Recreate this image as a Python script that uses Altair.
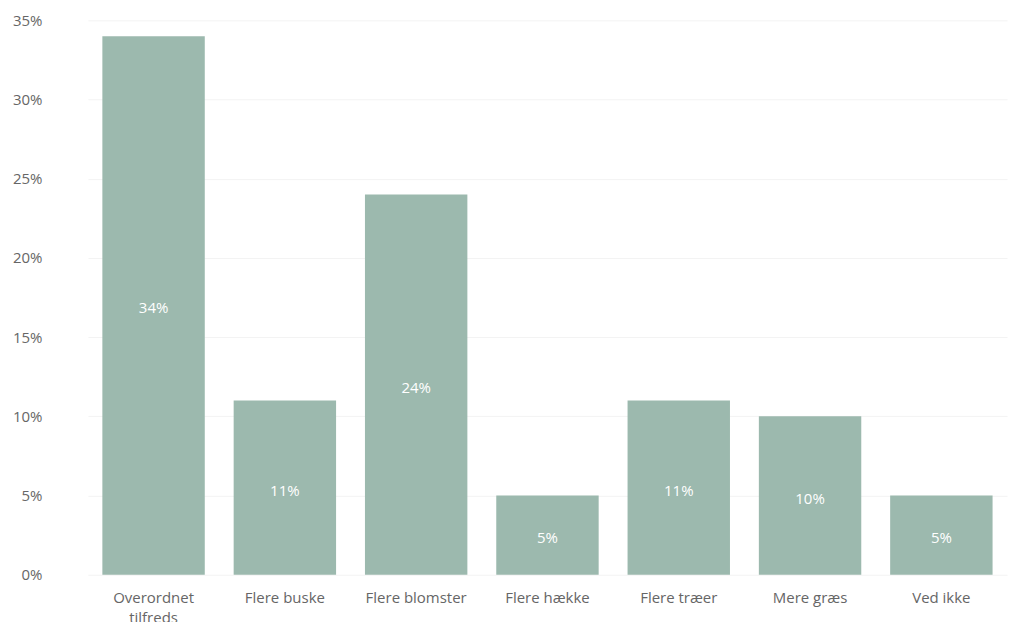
import altair as alt
import pandas as pd

categories = ["Overordnet tilfreds", "Flere buske", "Flere blomster", "Flere hække",
              "Flere træer", "Mere græs", "Ved ikke"]
values = [0.34, 0.11, 0.24, 0.05, 0.11, 0.10, 0.05]

df = pd.DataFrame({"kategori": categories, "andel": values})

FONT = "Open Sans"
BAR = "#9cb9ae"

x = alt.X("kategori:N", sort=categories, title=None,
          scale=alt.Scale(paddingInner=0.22, paddingOuter=0.11),
          axis=alt.Axis(labelAngle=0, domain=False, ticks=False, labelPadding=16,
                        labelFontSize=15, labelColor="#666666", labelFont=FONT,
                        labelLineHeight=20, labelLimit=200,
                        labelExpr="datum.label == 'Overordnet tilfreds' ? ['Overordnet', 'tilfreds'] : datum.label"))
y = alt.Y("andel:Q", title=None,
          scale=alt.Scale(domain=[0, 0.35], nice=False),
          axis=alt.Axis(format=".0%", values=[0, 0.05, 0.10, 0.15, 0.20, 0.25, 0.30, 0.35],
                        domain=False, ticks=False, labelPadding=46,
                        labelFontSize=15, labelColor="#666666", labelFont=FONT,
                        gridColor="#f3f3f3", gridWidth=1))

bars = alt.Chart(df).mark_bar(color=BAR).encode(x=x, y=y)

labels = alt.Chart(df).transform_calculate(mid="datum.andel / 2").mark_text(
    color="white", fontSize=15, font=FONT, baseline="middle", align="center", dy=3
).encode(
    x=alt.X("kategori:N", sort=categories),
    y=alt.Y("mid:Q"),
    text=alt.Text("andel:Q", format=".0%"),
)

chart = alt.layer(bars, labels).properties(
    width=920, height=555,
    background="white",
    autosize=alt.AutoSizeParams(type="none"),
    padding={"left": 80, "top": 12, "right": 10, "bottom": 60},
).configure_view(strokeWidth=0, stroke="transparent")

chart.save("out.html", embed_options={"renderer": "svg", "actions": False})
